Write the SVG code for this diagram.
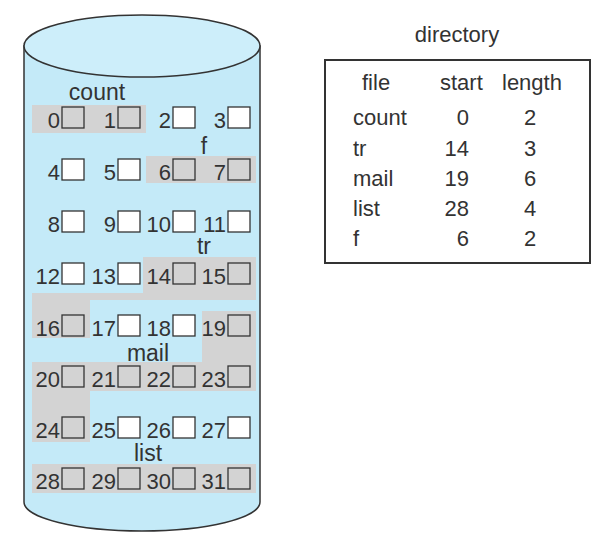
<svg xmlns="http://www.w3.org/2000/svg" width="605" height="550" viewBox="0 0 605 550">
<style>
text{font-family:"Liberation Sans",Arial,sans-serif;fill:#333;font-size:22px}
.n{text-anchor:end}
.l{font-size:23px;text-anchor:middle}
.hl{fill:#d3d3d3}
.b{fill:#fff;stroke:#333;stroke-width:1.3}
.bg{fill:#d3d3d3;stroke:#333;stroke-width:1.3}
.cyl{fill:#c4eaf8;stroke:#333;stroke-width:1.5}
.top{fill:#cdeefa;stroke:#333;stroke-width:1.5}
.tbl{fill:#fff;stroke:#333;stroke-width:2}
</style>
<rect width="605" height="550" fill="#fff"/>
<g id="disk">
<path class="cyl" d="M24,46 L24,502 A118,29 0 0 0 260,502 L260,46 Z"/>
<ellipse class="top" cx="142" cy="46" rx="118" ry="31"/>
</g>
<g id="files">
<rect id="count-area" class="hl" x="32" y="105" width="114" height="28"/>
<rect id="f-area" class="hl" x="146" y="156" width="110" height="27"/>
<polygon id="tr-area" class="hl" points="143,257 256,257 256,300 90,300 90,338 32,338 32,293 143,293"/>
<polygon id="mail-area" class="hl" points="202,311 256,311 256,391 90,391 90,442 32,442 32,362 202,362"/>
<rect id="list-area" class="hl" x="32" y="464" width="224" height="29"/>
<text class="l" x="97" y="100">count</text>
<text class="l" x="204" y="154">f</text>
<text class="l" x="204" y="254">tr</text>
<text class="l" x="148" y="361">mail</text>
<text class="l" x="148" y="461">list</text>
</g>
<g id="blocks">
<rect class="bg" x="62" y="107" width="22" height="21"/><text class="n" x="60" y="128">0</text>
<rect class="bg" x="118" y="107" width="22" height="21"/><text class="n" x="116" y="128">1</text>
<rect class="b" x="173" y="107" width="22" height="21"/><text class="n" x="171" y="128">2</text>
<rect class="b" x="228" y="107" width="22" height="21"/><text class="n" x="226" y="128">3</text>
<rect class="b" x="62" y="159" width="22" height="21"/><text class="n" x="60" y="180">4</text>
<rect class="b" x="118" y="159" width="22" height="21"/><text class="n" x="116" y="180">5</text>
<rect class="bg" x="173" y="159" width="22" height="21"/><text class="n" x="171" y="180">6</text>
<rect class="bg" x="228" y="159" width="22" height="21"/><text class="n" x="226" y="180">7</text>
<rect class="b" x="62" y="211" width="22" height="21"/><text class="n" x="60" y="232">8</text>
<rect class="b" x="118" y="211" width="22" height="21"/><text class="n" x="116" y="232">9</text>
<rect class="b" x="173" y="211" width="22" height="21"/><text class="n" x="171" y="232">10</text>
<rect class="b" x="228" y="211" width="22" height="21"/><text class="n" x="226" y="232">11</text>
<rect class="b" x="62" y="263" width="22" height="21"/><text class="n" x="60" y="284">12</text>
<rect class="b" x="118" y="263" width="22" height="21"/><text class="n" x="116" y="284">13</text>
<rect class="bg" x="173" y="263" width="22" height="21"/><text class="n" x="171" y="284">14</text>
<rect class="bg" x="228" y="263" width="22" height="21"/><text class="n" x="226" y="284">15</text>
<rect class="bg" x="62" y="315" width="22" height="21"/><text class="n" x="60" y="336">16</text>
<rect class="b" x="118" y="315" width="22" height="21"/><text class="n" x="116" y="336">17</text>
<rect class="b" x="173" y="315" width="22" height="21"/><text class="n" x="171" y="336">18</text>
<rect class="bg" x="228" y="315" width="22" height="21"/><text class="n" x="226" y="336">19</text>
<rect class="bg" x="62" y="366" width="22" height="21"/><text class="n" x="60" y="387">20</text>
<rect class="bg" x="118" y="366" width="22" height="21"/><text class="n" x="116" y="387">21</text>
<rect class="bg" x="173" y="366" width="22" height="21"/><text class="n" x="171" y="387">22</text>
<rect class="bg" x="228" y="366" width="22" height="21"/><text class="n" x="226" y="387">23</text>
<rect class="bg" x="62" y="417" width="22" height="21"/><text class="n" x="60" y="438">24</text>
<rect class="b" x="118" y="417" width="22" height="21"/><text class="n" x="116" y="438">25</text>
<rect class="b" x="173" y="417" width="22" height="21"/><text class="n" x="171" y="438">26</text>
<rect class="b" x="228" y="417" width="22" height="21"/><text class="n" x="226" y="438">27</text>
<rect class="bg" x="62" y="468" width="22" height="21"/><text class="n" x="60" y="489">28</text>
<rect class="bg" x="118" y="468" width="22" height="21"/><text class="n" x="116" y="489">29</text>
<rect class="bg" x="173" y="468" width="22" height="21"/><text class="n" x="171" y="489">30</text>
<rect class="bg" x="228" y="468" width="22" height="21"/><text class="n" x="226" y="489">31</text>
</g>
<g id="directory">
<text x="457" y="42" text-anchor="middle" font-size="23">directory</text>
<rect class="tbl" x="325" y="60" width="265" height="203"/>
<text x="362" y="90">file</text>
<text x="440" y="90">start</text>
<text x="502" y="90">length</text>
<text x="353" y="125">count</text><text class="n" x="469" y="125">0</text><text x="530" y="125" text-anchor="middle">2</text>
<text x="353" y="156">tr</text><text class="n" x="469" y="156">14</text><text x="530" y="156" text-anchor="middle">3</text>
<text x="353" y="186">mail</text><text class="n" x="469" y="186">19</text><text x="530" y="186" text-anchor="middle">6</text>
<text x="353" y="216">list</text><text class="n" x="469" y="216">28</text><text x="530" y="216" text-anchor="middle">4</text>
<text x="353" y="246">f</text><text class="n" x="469" y="246">6</text><text x="530" y="246" text-anchor="middle">2</text>
</g>
<g id="connectors"/>
</svg>
